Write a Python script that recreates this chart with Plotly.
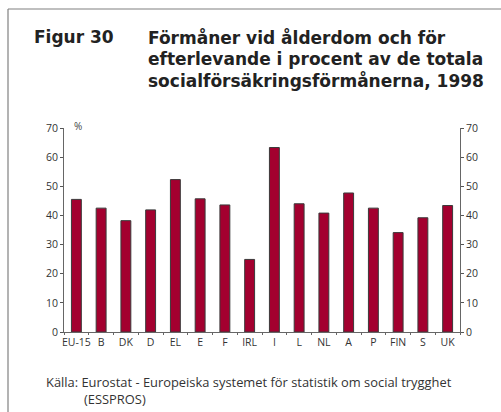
import plotly.graph_objects as go

categories = ["EU-15", "B", "DK", "D", "EL", "E", "F", "IRL", "I", "L", "NL", "A", "P", "FIN", "S", "UK"]
values = [45.5, 42.5, 38.2, 41.9, 52.3, 45.7, 43.6, 24.9, 63.3, 44.0, 40.8, 47.7, 42.5, 34.1, 39.2, 43.4]
y_ticks = [0, 10, 20, 30, 40, 50, 60, 70]

title_left = "Figur 30"
title_lines = ["Förmåner vid ålderdom och för",
               "efterlevande i procent av de totala",
               "socialförsäkringsförmånerna, 1998"]
source_lines = ["Källa: Eurostat - Europeiska systemet för statistik om social trygghet",
                "(ESSPROS)"]

W, H = 501, 412
L, R, T, B = 64, 41, 128, 80
PW, PH = W - L - R, H - T - B

def px(x):
    return (x - L) / PW

def py(y):
    return (T + PH - y) / PH

fig = go.Figure()
fig.add_trace(go.Bar(
    x=categories, y=values,
    marker=dict(color="#A3002F", line=dict(color="#3a3a3a", width=1)),
    hoverinfo="x+y", showlegend=False,
))
fig.add_trace(go.Scatter(
    x=categories, y=values, yaxis="y2", mode="lines",
    line=dict(width=0), opacity=0, hoverinfo="skip", showlegend=False,
))

axis_font = dict(family="Open Sans", size=10.5, color="#333333")
yax = dict(range=[0, 70], tickvals=y_ticks, ticks="outside", ticklen=3,
           tickcolor="#555555", showline=True, linecolor="#666666", linewidth=1,
           showgrid=False, zeroline=False, tickfont=axis_font, automargin=False,
           fixedrange=True)

fig.update_layout(
    width=W, height=H, autosize=False,
    margin=dict(l=L, r=R, t=T, b=B, pad=0),
    paper_bgcolor="white", plot_bgcolor="white",
    bargap=0.6,
    xaxis=dict(showline=True, linecolor="#666666", linewidth=1, ticks="outside",
               tickson="boundaries", ticklen=2, tickcolor="#666666", tickangle=0,
               showgrid=False, tickfont=axis_font, automargin=False),
    yaxis=yax,
    yaxis2=dict(yax, overlaying="y", side="right"),
)

ann = []
title_font = dict(family="DejaVu Sans", size=17, color="#222222")
ann.append(dict(text="<b>" + title_left + "</b>", x=px(32), y=py(37), xref="paper", yref="paper",
                xanchor="left", yanchor="middle", showarrow=False, font=title_font))
for i, line in enumerate(title_lines):
    ann.append(dict(text="<b>" + line + "</b>", x=px(146), y=py(37 + 22 * i), xref="paper", yref="paper",
                    xanchor="left", yanchor="middle", showarrow=False, font=title_font))
ann.append(dict(text="%", x=px(72), y=py(126), xref="paper", yref="paper",
                xanchor="left", yanchor="middle", showarrow=False,
                font=dict(family="Open Sans", size=10, color="#444444")))
src_x = [44, 82]
src_y = [381.5, 398.5]
for i, line in enumerate(source_lines):
    ann.append(dict(text=line, x=px(src_x[i]), y=py(src_y[i]), xref="paper", yref="paper",
                    xanchor="left", yanchor="middle", showarrow=False,
                    font=dict(family="Open Sans", size=12.9, color="#333333")))
fig.update_layout(annotations=ann)

frame = dict(color="#808080", width=1.2)
fig.update_layout(shapes=[
    dict(type="line", xref="paper", yref="paper", x0=px(8), x1=px(W + 5), y0=py(9), y1=py(9), line=frame),
    dict(type="line", xref="paper", yref="paper", x0=px(8), x1=px(8), y0=py(9), y1=py(H + 5), line=frame),
])

fig.write_html("out.html", config={"displayModeBar": False},
               post_script="document.body.style.margin='0';")
